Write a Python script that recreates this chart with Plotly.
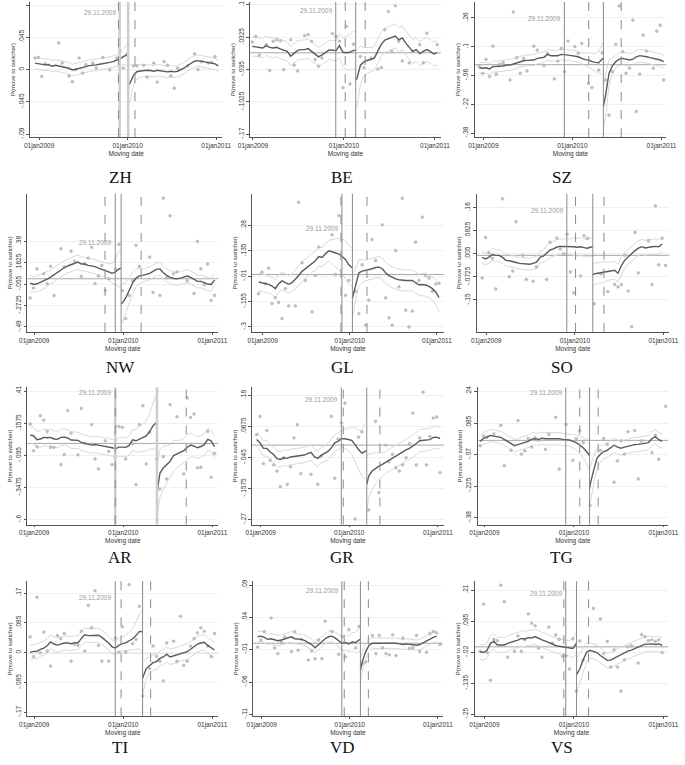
import datetime as dt
import plotly.graph_objects as go

N = None

# fortnightly sampling grid shared by all panels
DATES = [
    "2008-12-15", "2008-12-29", "2009-01-12", "2009-01-26", "2009-02-09", "2009-02-23", "2009-03-09", "2009-03-23", "2009-04-06", "2009-04-20",
    "2009-05-04", "2009-05-18", "2009-06-01", "2009-06-15", "2009-06-29", "2009-07-13", "2009-07-27", "2009-08-10", "2009-08-24", "2009-09-07",
    "2009-09-21", "2009-10-05", "2009-10-19", "2009-11-02", "2009-11-16", "2009-11-30", "2009-12-14", "2009-12-28", "2010-01-11", "2010-01-25",
    "2010-02-08", "2010-02-22", "2010-03-08", "2010-03-22", "2010-04-05", "2010-04-19", "2010-05-03", "2010-05-17", "2010-05-31", "2010-06-14",
    "2010-06-28", "2010-07-12", "2010-07-26", "2010-08-09", "2010-08-23", "2010-09-06", "2010-09-20", "2010-10-04", "2010-10-18", "2010-11-01",
    "2010-11-15", "2010-11-29", "2010-12-13", "2010-12-27", "2011-01-10",
]
VOTE = "2009-11-29"
XTICKS = ["2009-01-01", "2010-01-01", "2011-01-01"]
XTICK_TEXT = ["01jan2009", "01jan2010", "01jan2011"]

# ---- ZH ----
ZH_pts = [.016, .017, -.0097, .008, N, N, N, .037, .009, N,
          -.009, -.017, .0, .016, -.005, .007, N, .009, .002, N,
          .017, N, -.0005, N, .016, .025, .002, .021, N, .005,
          .005, N, .006, -.011, N, .009, -.0175, N, .011, .006,
          -.009, -.026, .002, N, N, .005, N, .022, .0, .011,
          N, .009, .010, .018, N]
ZH_line = [.009, .008, .007, .0065, .007, .0046, .006, .0046, .0037, .0028,
           .0018, -.0005, .0005, .0014, .0028, .004, .0055, .0055, .0065, .0074,
           .008, .0088, .010, .011, .0125, .015, .018, .020, -.0185, -.008,
           -.003, -.002, -.0014, -.001, -.0014, -.0023, -.001, -.0014, -.0028, -.0032,
           -.0023, -.0032, -.0023, 0, .0023, .006, .0092, .0116, .0125, .0116,
           .0106, .0097, .0088, .0079, .0051]
ZH_ci = [.008, .008, .008, .008, .008, .008, .008, .008, .008, .008,
         .008, .008, .008, .008, .008, .008, .008, .008, .008, .008,
         .008, .008, .008, .008, .008, .009, .011, .014, .025, .014,
         .010, .009, .008, .008, .008, .008, .008, .008, .008, .008,
         .008, .008, .008, .008, .008, .008, .008, .008, .008, .008,
         .008, .008, .008, .008, .008]
ZH_break = ("2010-01-03", .021, -.022, .015, .028)
ZH_dash = ["2009-11-24", "2010-01-31"]
ZH_yticks = [-.09, -.045, 0, .045, .09]

# ---- BE ----
BE_pts = [N, .0225, .034, -.005, N, .017, -.037, .024, .027, .025,
          -.035, N, .027, -.026, -.038, N, .036, .038, .024, -.014,
          -.028, -.011, N, N, .040, .034, .024, -.073, .055, -.065,
          .018, N, -.008, -.031, N, -.011, N, -.034, -.031, .048,
          .086, .003, .098, .024, -.017, N, -.021, .003, N, .017,
          -.021, .041, N, N, .017]
BE_line = [N, .0135, .0128, .012, .010, .015, .0114, .010, .0114, .008,
           .006, .003, -.007, 0, .005, .0066, .0066, .0087, .003, -.0017,
           -.0086, -.0045, 0, .006, .0052, .0045, .015, .001, 0, .001,
           .005, -.0536, -.026, -.019, -.0156, -.014, -.0107, .003, .018, .0266,
           .0294, .032, .035, .027, .031, .020, .0114, .003, .0066, -.0017,
           .003, .0066, .003, -.0024, 0]
BE_ci = [.02, .02, .02, .02, .02, .02, .02, .02, .02, .02,
         .02, .02, .02, .02, .02, .02, .02, .02, .02, .02,
         .02, .02, .02, .02, .02, .022, .025, .03, .035, .037,
         .04, .06, .04, .03, .027, .025, .025, .025, .025, .025,
         .025, .025, .025, .025, .025, .025, .025, .025, .025, .025,
         .025, .025, .025, .025, .025]
BE_break = ("2010-02-17", .005, -.056, .04, .06)
BE_dash = ["2010-01-06", "2010-03-27"]
BE_yticks = [-.17, -.1025, -.035, .0325, .1]

# ---- SZ ----
SZ_pts = [-.008, -.048, .03, -.066, .103, -.053, .002, .011, N, -.085,
          .293, .039, -.048, .035, -.035, N, .103, .081, N, -.006,
          .063, N, -.079, .02, .09, -.039, .131, N, .10, .063,
          .118, N, -.103, -.127, N, -.03, .066, -.085, -.28, -.039,
          .113, .326, .072, -.048, -.02, .247, -.26, -.053, .164, .076,
          N, -.02, .186, .219, -.085]
SZ_line = [-.017, -.020, -.017, -.024, -.011, -.009, -.011, -.007, -.002, -.002,
           .004, .011, .017, .022, .024, .026, .026, .035, .039, .041,
           .057, .050, .050, .050, .057, .057, .053, .050, .048, .044,
           .035, .028, .026, .017, .013, .011, .031, -.17, -.048, -.006,
           .017, .031, .035, .031, .026, .031, .044, .050, .048, .044,
           .039, .035, .031, .026, .017]
SZ_ci = [.03, .03, .03, .03, .03, .03, .03, .03, .03, .03,
         .03, .03, .03, .03, .03, .03, .03, .03, .03, .03,
         .03, .03, .03, .03, .03, .03, .03, .03, .03, .03,
         .03, .035, .04, .045, .05, .06, .08, .12, .07, .045,
         .035, .035, .035, .035, .035, .035, .035, .035, .035, .035,
         .035, .035, .035, .035, .035]
SZ_break = ("2010-05-08", .035, -.232, .09, .12)
SZ_dash = ["2010-03-09", "2010-07-20"]
SZ_yticks = [-.38, -.22, -.06, .1, .26]

# ---- NW ----
NW_pts = [-.195, -.095, .10, N, .05, -.05, .125, -.17, N, .305,
          .12, N, .28, .18, N, .025, .15, .21, .32, -.05,
          .027, .136, -.12, .0, N, .095, .35, -.12, -.405, -.17,
          -.017, .34, .125, N, N, .22, -.14, N, -.17, .82,
          .01, .64, .05, .07, N, N, -.02, N, -.15, .38,
          .1, -.06, .15, -.22, -.17]
NW_line = [-.044, -.058, -.051, -.037, -.024, -.003, .017, .041, .068, .091,
           .112, .13, .143, .16, .17, .15, .15, .136, .133, .123,
           .108, .098, .088, .071, .055, .069, .10, -.247, -.196, -.112,
           -.044, .007, .03, .034, .041, .054, .074, .095, .10, .061,
           .034, .014, .003, 0, .007, .017, .027, .014, -.007, -.027,
           -.027, -.044, -.054, -.058, -.014]
NW_ci = [.08, .08, .08, .08, .08, .07, .07, .07, .07, .07,
         .07, .07, .07, .07, .07, .07, .07, .07, .07, .07,
         .07, .07, .07, .08, .10, .13, .18, .2, .15, .13,
         .11, .09, .08, .065, .065, .065, .065, .065, .065, .065,
         .065, .065, .065, .065, .065, .065, .065, .065, .065, .065,
         .065, .065, .065, .065, .065]
NW_break = ("2009-12-23", .105, -.254, .2, .17)
NW_dash = ["2009-10-18", "2010-03-15"]
NW_yticks = [-.49, -.2725, -.055, .1625, .38]

# ---- GL ----
GL_pts = [-.11, .013, -.053, .036, -.167, -.133, -.16, -.252, -.081, -.18,
          N, -.18, .413, .067, -.034, N, -.214, -.006, .157, N,
          N, N, .227, 0, .337, N, -.119, -.034, N, -.096,
          -.224, .055, -.29, -.147, .2, .08, N, .284, -.134, -.248,
          -.29, .137, -.071, .436, -.204, -.3, -.21, .185, -.034, .328,
          -.006, -.02, -.096, -.055, -.05]
GL_line = [-.043, -.047, -.051, -.056, -.066, -.081, -.053, -.037, -.047, -.056,
           -.047, -.028, -.006, .018, .033, .052, .067, .079, .103, .098,
           .118, .136, .13, .124, .117, .103, .086, .055, .04, -.059,
           .01, .019, .023, .029, .033, .04, .042, .033, .01, -.006,
           -.017, -.025, -.03, -.034, -.034, -.034, -.034, -.047, -.059, -.057,
           -.06, -.068, -.081, -.1, -.132]
GL_ci = [.05, .05, .05, .05, .05, .05, .05, .05, .05, .05,
         .05, .055, .055, .055, .055, .055, .055, .055, .055, .055,
         .055, .06, .07, .08, .09, .1, .11, .11, .11, .09,
         .075, .065, .06, .06, .06, .06, .06, .06, .06, .06,
         .06, .06, .06, .06, .06, .06, .06, .06, .06, .065,
         .065, .065, .065, .07, .08]
GL_break = ("2010-01-12", .037, -.135, .11, .12)
GL_dash = ["2009-11-25", "2010-03-14"]
GL_yticks = [-.3, -.155, -.01, .135, .28]

# ---- SO ----
SO_pts = [-.076, .06, .008, -.01, -.113, N, .19, N, -.072, -.053,
          .113, N, 0, -.081, N, -.087, -.039, N, N, -.081,
          .044, N, .058, .021, .005, .071, -.056, -.126, N, -.069,
          .066, .057, N, -.163, N, -.062, N, -.122, N, -.098,
          -.106, -.098, 0, -.12, -.24, .077, -.059, N, N, .049,
          -.098, .166, -.032, .057, -.034]
SO_line = [-.007, -.012, -.006, .003, 0, 0, -.007, -.017, -.018, -.02,
           -.024, -.027, -.028, -.028, -.03, -.027, -.023, -.007, -.003, .008,
           .018, .022, .028, .03, .03, .029, .03, .029, .027, .029,
           .026, .024, .028, -.062, -.06, -.058, -.055, -.054, -.053, -.05,
           -.06, -.034, -.016, -.005, .005, .016, .024, .029, .025, .028,
           .029, .03, .029, .038, N]
SO_ci = [.02, .02, .02, .02, .02, .02, .02, .02, .02, .02,
         .02, .02, .02, .02, .02, .02, .02, .02, .02, .025,
         .025, .025, .025, .025, .025, .025, .025, .03, .03, .03,
         .03, .03, .03, .035, .035, .035, .035, .03, .03, .03,
         .03, .03, .025, .025, .025, .025, .025, .025, .025, .025,
         .025, .025, .025, .025, .025]
SO_break = ("2010-03-16", .028, -.065, .032, .04)
SO_dash = ["2010-01-04", "2010-05-01"]
SO_yticks = [-.15, -.0725, .005, .0825, .16]

# ---- AR ----
AR_pts = [.153, -.058, -.026, .218, .184, .095, -.031, -.031, N, -.167,
          -.088, .258, .08, N, -.09, .276, 0, N, .148, -.122,
          -.2, N, .021, -.063, -.167, .14, .132, .127, -.122, N,
          0, -.324, .148, .297, -.162, .087, N, -.122, -.359, -.104,
          -.28, .305, N, .21, N, -.24, .358, .205, .232, -.193,
          -.188, N, .095, -.267, -.078]
AR_line = [.066, .061, .029, .035, .048, .045, .048, .035, .032, .048,
           .05, .043, .027, .024, .024, .008, .003, -.005, -.013, -.008,
           -.013, -.018, -.018, -.026, -.034, -.042, -.029, -.029, -.031, -.016,
           .029, .021, .032, .048, .06, .094, .14, .165, -.235, -.193,
           -.167, -.14, -.095, -.083, -.075, -.057, -.03, -.013, -.021, -.034,
           -.024, -.01, .032, .021, -.026]
AR_ci = [.065, .065, .065, .065, .065, .065, .065, .065, .065, .065,
         .065, .065, .065, .065, .065, .065, .065, .065, .065, .065,
         .065, .065, .065, .065, .065, .07, .075, .075, .075, .075,
         .08, .09, .1, .11, .12, .14, .18, .22, .19, .17,
         .15, .13, .12, .11, .1, .095, .095, .095, .085, .085,
         .085, .085, .085, .085, .085]
AR_break = ("2010-05-19", .17, -.385, .25, .2)
AR_dash = ["2009-11-29", "2010-09-16"]
AR_yticks = [-.6, -.3475, -.095, .1575, .41]

# ---- GR ----
GR_pts = [.038, .104, -.067, .053, -.055, -.072, -.094, -.151, -.046, -.142,
          -.079, .026, .074, -.103, N, N, -.106, N, -.142, -.04,
          N, N, .104, -.12, .022, .08, .152, N, N, -.268,
          .029, .048, N, -.235, N, .086, -.172, N, 0, -.06,
          -.034, -.082, -.094, -.072, -.046, .005, .116, -.072, .026, .192,
          -.072, .032, .098, .102, -.1]
GR_line = [.02, .008, -.012, -.012, -.025, -.034, -.049, -.052, -.046, -.048,
           -.043, -.041, -.04, -.037, -.036, -.031, -.026, -.042, -.048, -.037,
           -.031, -.023, -.01, .008, .014, .023, .023, .02, .017, .002,
           -.016, -.029, -.022, -.112, -.094, -.084, -.076, -.07, -.062, -.055,
           -.048, -.04, -.031, -.024, -.017, -.012, -.004, .006, .016, .018,
           .02, .02, .028, .029, .024]
GR_ci = [.028, .028, .028, .028, .028, .028, .028, .028, .028, .028,
         .028, .028, .028, .028, .028, .028, .028, .028, .028, .028,
         .028, .03, .03, .03, .03, .03, .035, .04, .05, .06,
         .07, .085, .1, .08, .065, .055, .048, .043, .04, .04,
         .04, .04, .04, .04, .04, .04, .04, .04, .04, .04,
         .04, .04, .04, .04, .04]
GR_break = ("2010-03-14", -.02, -.142, .1, .1)
GR_dash = ["2009-12-07", "2010-05-07"]
GR_yticks = [-.27, -.1575, -.045, .0675, .18]

# ---- TG ----
TG_pts = [-.026, .021, .016, N, .032, N, .074, -.125, N, -.049,
          N, .097, -.068, -.052, .008, -.033, .013, 0, N, -.044,
          .029, N, .113, -.141, N, .078, N, -.098, .008, .048,
          -.011, N, -.32, N, N, -.049, .008, -.02, N, -.206,
          -.101, -.003, -.068, .042, N, .048, -.19, -.003, N, N,
          -.06, .025, -.093, N, .167]
TG_line = [-.005, .01, .016, .024, .021, .018, .015, .005, -.006, -.015,
           -.026, -.021, -.015, -.01, -.005, .006, .008, .005, .01, .008,
           .008, .01, .008, .008, .005, .003, .002, -.005, -.011, -.023,
           -.036, -.055, -.22, -.15, -.088, -.068, -.055, -.049, -.036, -.024,
           -.033, -.039, -.033, -.028, -.024, -.021, -.02, -.018, -.015, -.011,
           .008, .018, .003, -.005, N]
TG_ci = [.03, .03, .03, .03, .03, .03, .03, .03, .03, .03,
         .03, .03, .03, .03, .03, .03, .03, .03, .03, .03,
         .03, .03, .03, .03, .03, .03, .03, .033, .037, .043,
         .05, .06, .09, .07, .05, .042, .035, .035, .035, .035,
         .035, .035, .035, .035, .035, .035, .035, .035, .035, .035,
         .035, .035, .035, .035, .035]
TG_break = ("2010-03-06", -.075, -.239, .075, .1)
TG_dash = ["2010-01-25", "2010-04-10"]
TG_yticks = [-.38, -.225, -.07, .085, .24]

# ---- TI ----
TI_pts = [.045, -.011, .158, 0, .059, .005, -.038, N, .049, .04,
          .055, N, -.024, .024, .021, .061, .005, .135, .071, .177,
          .021, -.024, N, -.024, N, .042, .002, .074, .002, .194,
          .026, .038, .132, -.123, N, -.045, .019, -.01, -.024, -.08,
          .028, N, .033, -.024, .104, -.036, -.024, .019, .04, .057,
          .071, .061, .019, -.011, .055]
TI_line = [.001, .004, .004, .01, .013, .02, .031, .025, .022, .026,
           .028, .028, .026, .029, .028, .041, .051, .049, .049, .048,
           .05, .044, .037, .028, .017, .014, .021, .026, .028, .033,
           .04, .049, .061, -.07, -.045, -.035, -.028, -.025, -.016, -.012,
           -.004, -.012, -.009, -.007, -.002, 0, .003, .01, .018, .025,
           .028, .03, .021, .015, .008]
TI_ci = [.02, .02, .02, .02, .02, .02, .02, .02, .02, .02,
         .02, .02, .02, .02, .02, .02, .02, .02, .02, .02,
         .02, .02, .02, .02, .02, .02, .02, .02, .022, .026,
         .03, .038, .05, .045, .03, .022, .022, .022, .022, .022,
         .022, .022, .022, .022, .022, .022, .022, .022, .022, .022,
         .022, .022, .022, .022, .022]
TI_break = ("2010-03-21", .06, -.074, .06, .05)
TI_dash = ["2009-12-23", "2010-04-23"]
TI_yticks = [-.17, -.085, 0, .085, .17]

# ---- VD ----
VD_pts = [-.006, .005, .018, N, .039, -.007, -.016, .002, .01, N,
          -.013, .018, -.011, .006, N, -.026, -.012, -.024, .005, -.024,
          .034, N, .018, N, -.017, .01, -.021, .021, N, -.007,
          .026, -.031, -.029, N, .012, -.016, .012, -.007, -.016, -.018,
          .013, -.019, N, .008, N, -.008, -.007, .012, -.013, N,
          -.014, .015, .018, .016, -.002]
VD_line = [.01, .011, .009, .006, .007, .006, .004, .005, .007, .009,
           .01, .007, .007, .006, .004, .001, -.002, -.007, -.002, .002,
           .007, .01, .011, .008, .004, 0, .001, -.001, .002, .001,
           .005, -.028, -.013, -.003, 0, 0, 0, 0, .001, 0,
           0, 0, -.001, -.002, -.001, -.002, -.002, -.003, -.002, .001,
           .003, .006, .009, .011, N]
VD_ci = [.008, .008, .008, .008, .008, .008, .008, .008, .008, .008,
         .008, .008, .008, .008, .008, .008, .008, .008, .008, .008,
         .008, .009, .009, .009, .009, .012, .012, .012, .014, .016,
         .018, .015, .012, .01, .008, .008, .008, .008, .008, .008,
         .008, .008, .008, .008, .008, .008, .008, .008, .008, .008,
         .008, .008, .008, .008, .008]
VD_break = ("2010-02-14", .006, -.042, .02, .018)
VD_dash = ["2009-12-09", "2010-03-19"]
VD_yticks = [-.11, -.06, -.01, .04, .09]

# ---- VS ----
VS_pts = [-.017, .158, -.021, -.124, .028, .023, .228, .167, -.038, N,
          -.017, .04, -.017, .026, .122, .087, .078, -.005, -.039, N,
          .073, .014, .044, .028, -.035, -.033, -.082, .03, -.164, .022,
          -.05, N, N, .142, N, .103, -.025, .02, -.075, -.011,
          -.075, -.164, -.048, 0, .004, N, -.06, .045, .038, .023,
          .026, .02, .026, -.021, N]
VS_line = [-.018, -.021, -.013, .013, .02, .007, .007, .007, .013, .017,
           .02, .025, .031, .029, .034, .033, .038, .031, .026, .021,
           .015, .011, .005, .002, 0, -.002, -.005, -.006, .012, -.082,
           -.048, -.02, -.013, -.016, -.021, -.032, -.04, -.05, -.049, -.042,
           -.034, -.028, -.022, -.016, -.012, -.006, .001, .006, .01, .01,
           .011, .009, .011, .006, N]
VS_ci = [.028, .028, .028, .028, .028, .028, .028, .028, .028, .028,
         .028, .028, .028, .028, .028, .028, .028, .028, .028, .028,
         .028, .028, .028, .028, .028, .028, .028, .035, .04, .055,
         .045, .035, .028, .028, .028, .028, .028, .028, .028, .028,
         .028, .028, .028, .028, .028, .028, .028, .028, .028, .028,
         .028, .028, .028, .028, .028]
VS_break = ("2010-01-12", .016, -.103, .045, .065)
VS_dash = ["2009-11-21", "2010-03-02"]
VS_yticks = [-.25, -.135, -.02, .095, .21]

W, H = 685, 765
ROW_PX = [(0, 136), (193, 332), (388, 526), (583, 719)]   # plot top / x-axis line, pixels
TITLE_Y = [177, 368, 559, 750]
COL_CX = [112, 341, 568]

# box = (left px, right px, px of 01jan2009, px of 01jan2011); lab = height of the date label
PANELS = [
    dict(name="ZH", pts=ZH_pts, line=ZH_line, ci=ZH_ci, brk=ZH_break, dash=ZH_dash, yt=ZH_yticks, yr=(-.0942, .0942), box=(19, 217, 28, 211), lab=.92, wide=True),
    dict(name="BE", pts=BE_pts, line=BE_line, ci=BE_ci, brk=BE_break, dash=BE_dash, yt=BE_yticks, yr=(-.176, .106), box=(246, 443, 249, 437), lab=.94, wide=False),
    dict(name="SZ", pts=SZ_pts, line=SZ_line, ci=SZ_ci, brk=SZ_break, dash=SZ_dash, yt=SZ_yticks, yr=(-.402, .348), box=(478, 676, 487, 671), lab=.875, wide=False),
    dict(name="NW", pts=NW_pts, line=NW_line, ci=NW_ci, brk=NW_break, dash=NW_dash, yt=NW_yticks, yr=(-.54, .865), box=(16, 213, 23, 207), lab=.65, wide=False),
    dict(name="GL", pts=GL_pts, line=GL_line, ci=GL_ci, brk=GL_break, dash=GL_dash, yt=GL_yticks, yr=(-.328, .462), box=(248, 446, 259, 439), lab=.75, wide=False),
    dict(name="SO", pts=SO_pts, line=SO_line, ci=SO_ci, brk=SO_break, dash=SO_dash, yt=SO_yticks, yr=(-.257, .207), box=(480, 679, 490, 673), lab=.88, wide=False),
    dict(name="AR", pts=AR_pts, line=AR_line, ci=AR_ci, brk=AR_break, dash=AR_dash, yt=AR_yticks, yr=(-.639, .441), box=(16, 213, 23, 207), lab=.96, wide=True),
    dict(name="GR", pts=GR_pts, line=GR_line, ci=GR_ci, brk=GR_break, dash=GR_dash, yt=GR_yticks, yr=(-.288, .209), box=(248, 446, 257, 440), lab=.91, wide=False),
    dict(name="TG", pts=TG_pts, line=TG_line, ci=TG_ci, brk=TG_break, dash=TG_dash, yt=TG_yticks, yr=(-.414, .26), box=(481, 678, 488, 673), lab=.96, wide=False),
    dict(name="TI", pts=TI_pts, line=TI_line, ci=TI_ci, brk=TI_break, dash=TI_dash, yt=TI_yticks, yr=(-.181, .204), box=(16, 213, 23, 207), lab=.88, wide=False),
    dict(name="VD", pts=VD_pts, line=VD_line, ci=VD_ci, brk=VD_break, dash=VD_dash, yt=VD_yticks, yr=(-.113, .096), box=(249, 445, 258, 440), lab=.93, wide=False),
    dict(name="VS", pts=VS_pts, line=VS_line, ci=VS_ci, brk=VS_break, dash=VS_dash, yt=VS_yticks, yr=(-.257, .243), box=(478, 678, 488, 673), lab=.91, wide=False),
]


def stata(v):
    s = "%g" % v
    if s.startswith("0."):
        s = s[1:]
    elif s.startswith("-0."):
        s = "-" + s[2:]
    return s


def px_date(p, d09, d11):
    return dt.datetime(2009, 1, 1) + dt.timedelta(days=(p - d09) * 730 / (d11 - d09))


fig = go.Figure()
layout = {}
shapes = []
annots = []

for k, p in enumerate(PANELS):
    sfx = "" if k == 0 else str(k + 1)
    xa, ya = "x" + sfx, "y" + sfx
    row, col = divmod(k, 3)
    left, right, d09, d11 = p["box"]
    top, bot = ROW_PX[row]

    # split the smoothed line at the canton-specific break date
    brk = p["brk"]
    bdate = dt.date.fromisoformat(brk[0])
    pre, post = ([], [], []), ([], [], [])
    for d, v, c in zip(DATES, p["line"], p["ci"]):
        if v is None:
            continue
        seg = pre if dt.date.fromisoformat(d) < bdate else post
        seg[0].append(d); seg[1].append(v); seg[2].append(c)
    pre[0].append(brk[0]); pre[1].append(brk[1]); pre[2].append(brk[3])
    post[0].insert(0, brk[0]); post[1].insert(0, brk[2]); post[2].insert(0, brk[4])

    for xs, ys, cs in (pre, post):
        for sgn in (1, -1):
            fig.add_trace(go.Scatter(x=xs, y=[y + sgn * c for y, c in zip(ys, cs)], mode="lines",
                                     line=dict(color="#d9d9d9", width=1), xaxis=xa, yaxis=ya, hoverinfo="skip"))
    fig.add_trace(go.Scatter(x=DATES, y=p["pts"], mode="markers", xaxis=xa, yaxis=ya,
                             marker=dict(size=2.8, color="#c4c4c4", line=dict(color="#9c9c9c", width=0.4))))
    for xs, ys, cs in (pre, post):
        fig.add_trace(go.Scatter(x=xs, y=ys, mode="lines", line=dict(color="#5a5a5a", width=1.4),
                                 xaxis=xa, yaxis=ya))

    # reference lines
    shapes.append(dict(type="line", xref=f"{xa} domain", yref=ya, x0=0, x1=1, y0=0, y1=0,
                       line=dict(color="#a8a8a8", width=1), layer="below"))
    sol = dict(color="#cdcdcd", width=2.5) if p["wide"] else dict(color="#8a8a8a", width=1)
    for d in (VOTE, brk[0]):
        shapes.append(dict(type="line", xref=xa, yref=f"{ya} domain", x0=d, x1=d, y0=0, y1=1, line=sol))
    for d in p["dash"]:
        shapes.append(dict(type="line", xref=xa, yref=f"{ya} domain", x0=d, x1=d, y0=0, y1=1,
                           line=dict(color="#8a8a8a", width=1, dash="dash")))

    annots.append(dict(text="29.11.2009", xref=xa, yref=f"{ya} domain", x=VOTE, y=p["lab"],
                       xanchor="right", yanchor="middle", xshift=-2, showarrow=False,
                       font=dict(size=6.5, color="#9a9a9a")))
    annots.append(dict(text=p["name"], xref="paper", yref="paper", x=COL_CX[col] / W, y=1 - TITLE_Y[row] / H,
                       xanchor="center", yanchor="middle", showarrow=False,
                       font=dict(family="Liberation Serif", size=17, color="#111")))

    layout["xaxis" + sfx] = dict(
        domain=[left / W, right / W], anchor=ya,
        range=[px_date(left, d09, d11), px_date(right, d09, d11)],
        tickvals=XTICKS, ticktext=XTICK_TEXT, ticks="outside", ticklen=2, tickcolor="#555",
        showline=True, linecolor="#555", linewidth=0.8, showgrid=False, zeroline=False,
        tickfont=dict(size=6.5, color="#333"),
        title=dict(text="Moving date", font=dict(size=6.5, color="#333"), standoff=0),
    )
    layout["yaxis" + sfx] = dict(
        domain=[1 - bot / H, 1 - top / H], anchor=xa, range=list(p["yr"]),
        tickvals=p["yt"], ticktext=[stata(v) for v in p["yt"]], tickangle=-90,
        ticks="outside", ticklen=3, tickcolor="#555",
        showline=True, linecolor="#555", linewidth=0.8,
        showgrid=True, gridcolor="#f0f0f0", gridwidth=0.6, zeroline=False,
        tickfont=dict(size=6.5, color="#333"),
        title=dict(text="P(move to switcher)", font=dict(size=6, color="#333"), standoff=1),
    )

fig.update_layout(
    width=W, height=H, margin=dict(l=0, r=0, t=0, b=0),
    paper_bgcolor="white", plot_bgcolor="white", showlegend=False,
    font=dict(family="Liberation Sans"),
    shapes=shapes, annotations=annots, **layout,
)

fig.write_html("out.html", config={"displayModeBar": False},
               post_script="document.body.style.margin='0';")
